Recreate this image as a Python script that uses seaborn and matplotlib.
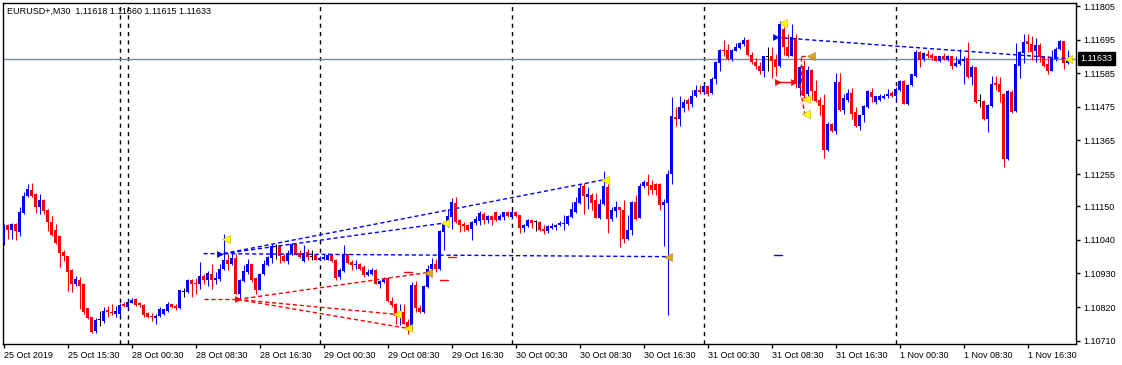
import matplotlib
matplotlib.use("Agg")
import matplotlib.pyplot as plt
import numpy as np
import pandas as pd
import seaborn as sns

# M30 EURUSD candles, one row per bar
opens = [1.11030, 1.11087, 1.11073, 1.11091, 1.11065, 1.11129, 1.11183, 1.11204, 1.11189, 1.11147,
         1.11171, 1.11136, 1.11098, 1.11071, 1.11051, 1.10999, 1.10986, 1.10942, 1.10896, 1.10909,
         1.10896, 1.10817, 1.10786, 1.10743, 1.10778, 1.10775, 1.10810, 1.10804, 1.10797, 1.10797,
         1.10829, 1.10821, 1.10834, 1.10845, 1.10832, 1.10827, 1.10799, 1.10792, 1.10784, 1.10792,
         1.10796, 1.10807, 1.10829, 1.10824, 1.10817, 1.10869, 1.10869, 1.10910, 1.10899, 1.10897,
         1.10921, 1.10908, 1.10929, 1.10910, 1.10913, 1.10943, 1.10973, 1.10960, 1.10981, 1.10864,
         1.10904, 1.10935, 1.10960, 1.10915, 1.10877, 1.10927, 1.10957, 1.10982, 1.11016, 1.11020,
         1.10986, 1.10971, 1.10995, 1.11025, 1.10997, 1.10971, 1.11000, 1.10984, 1.10989, 1.10975,
         1.10977, 1.10975, 1.10991, 1.10975, 1.10918, 1.10938, 1.10993, 1.10967, 1.10957, 1.10962,
         1.10951, 1.10924, 1.10929, 1.10942, 1.10894, 1.10902, 1.10915, 1.10840, 1.10829, 1.10788,
         1.10804, 1.10771, 1.10750, 1.10891, 1.10818, 1.10803, 1.10886, 1.10946, 1.10960, 1.10946,
         1.11066, 1.11091, 1.11115, 1.11160, 1.11104, 1.11093, 1.11087, 1.11076, 1.11095, 1.11101,
         1.11126, 1.11104, 1.11117, 1.11130, 1.11106, 1.11115, 1.11130, 1.11115, 1.11130, 1.11120,
         1.11079, 1.11084, 1.11104, 1.11098, 1.11098, 1.11075, 1.11069, 1.11080, 1.11082, 1.11087,
         1.11093, 1.11091, 1.11115, 1.11131, 1.11160, 1.11215, 1.11180, 1.11186, 1.11169, 1.11112,
         1.11158, 1.11213, 1.11109, 1.11134, 1.11146, 1.11137, 1.11042, 1.11073, 1.11164, 1.11112,
         1.11215, 1.11229, 1.11218, 1.11222, 1.11222, 1.11153, 1.11161, 1.11254, 1.11442, 1.11436,
         1.11472, 1.11498, 1.11485, 1.11512, 1.11531, 1.11523, 1.11542, 1.11520, 1.11565, 1.11618,
         1.11662, 1.11662, 1.11632, 1.11659, 1.11668, 1.11681, 1.11694, 1.11646, 1.11621, 1.11610,
         1.11594, 1.11638, 1.11640, 1.11629, 1.11610, 1.11730, 1.11670, 1.11643, 1.11701, 1.11538,
         1.11610, 1.11516, 1.11597, 1.11527, 1.11496, 1.11480, 1.11333, 1.11420, 1.11396, 1.11556,
         1.11464, 1.11498, 1.11520, 1.11458, 1.11411, 1.11447, 1.11474, 1.11523, 1.11491, 1.11498,
         1.11505, 1.11510, 1.11520, 1.11512, 1.11531, 1.11559, 1.11483, 1.11545, 1.11575, 1.11654,
         1.11632, 1.11649, 1.11646, 1.11640, 1.11625, 1.11640, 1.11629, 1.11640, 1.11610, 1.11616,
         1.11625, 1.11635, 1.11572, 1.11605, 1.11494, 1.11494, 1.11434, 1.11477, 1.11553, 1.11551,
         1.11518, 1.11305, 1.11523, 1.11461, 1.11610, 1.11651, 1.11690, 1.11681, 1.11657, 1.11679,
         1.11640, 1.11614, 1.11594, 1.11632, 1.11665, 1.11690, 1.11618]
highs = [1.11093, 1.11093, 1.11095, 1.11095, 1.11147, 1.11196, 1.11223, 1.11226, 1.11193, 1.11191,
         1.11174, 1.11142, 1.11117, 1.11091, 1.11056, 1.11008, 1.10988, 1.10945, 1.10923, 1.10918,
         1.10899, 1.10818, 1.10788, 1.10784, 1.10806, 1.10819, 1.10825, 1.10830, 1.10825, 1.10832,
         1.10836, 1.10841, 1.10849, 1.10849, 1.10836, 1.10829, 1.10803, 1.10799, 1.10797, 1.10819,
         1.10815, 1.10835, 1.10831, 1.10829, 1.10877, 1.10882, 1.10912, 1.10913, 1.10915, 1.10966,
         1.10927, 1.10938, 1.10960, 1.10935, 1.10960, 1.11060, 1.10993, 1.10997, 1.10995, 1.10913,
         1.10957, 1.10978, 1.10962, 1.10918, 1.10931, 1.10973, 1.10986, 1.11027, 1.11025, 1.11024,
         1.10993, 1.11006, 1.11030, 1.11030, 1.11006, 1.11022, 1.11009, 1.11006, 1.10993, 1.10986,
         1.10993, 1.10997, 1.10995, 1.10978, 1.10949, 1.11022, 1.10995, 1.10973, 1.10975, 1.10964,
         1.10957, 1.10946, 1.10949, 1.10946, 1.10908, 1.10918, 1.10918, 1.10853, 1.10833, 1.10831,
         1.10831, 1.10782, 1.10902, 1.10905, 1.10826, 1.10891, 1.10957, 1.10982, 1.10978, 1.11071,
         1.11098, 1.11142, 1.11178, 1.11180, 1.11109, 1.11098, 1.11091, 1.11101, 1.11117, 1.11133,
         1.11131, 1.11120, 1.11120, 1.11133, 1.11123, 1.11131, 1.11133, 1.11138, 1.11133, 1.11122,
         1.11091, 1.11109, 1.11109, 1.11104, 1.11101, 1.11087, 1.11087, 1.11095, 1.11091, 1.11101,
         1.11120, 1.11120, 1.11164, 1.11180, 1.11223, 1.11226, 1.11213, 1.11192, 1.11193, 1.11174,
         1.11265, 1.11222, 1.11146, 1.11167, 1.11147, 1.11169, 1.11120, 1.11166, 1.11186, 1.11226,
         1.11235, 1.11257, 1.11235, 1.11226, 1.11226, 1.11175, 1.11267, 1.11507, 1.11474, 1.11512,
         1.11502, 1.11505, 1.11531, 1.11548, 1.11548, 1.11551, 1.11548, 1.11572, 1.11625, 1.11664,
         1.11694, 1.11681, 1.11665, 1.11684, 1.11687, 1.11703, 1.11697, 1.11654, 1.11635, 1.11621,
         1.11643, 1.11670, 1.11670, 1.11649, 1.11755, 1.11736, 1.11714, 1.11745, 1.11714, 1.11610,
         1.11627, 1.11610, 1.11600, 1.11562, 1.11507, 1.11516, 1.11425, 1.11422, 1.11586, 1.11586,
         1.11516, 1.11534, 1.11538, 1.11474, 1.11453, 1.11480, 1.11529, 1.11538, 1.11512, 1.11516,
         1.11518, 1.11534, 1.11527, 1.11540, 1.11564, 1.11562, 1.11551, 1.11583, 1.11660, 1.11657,
         1.11654, 1.11660, 1.11651, 1.11643, 1.11643, 1.11651, 1.11646, 1.11643, 1.11643, 1.11665,
         1.11640, 1.11687, 1.11613, 1.11607, 1.11516, 1.11498, 1.11483, 1.11575, 1.11575, 1.11572,
         1.11520, 1.11531, 1.11529, 1.11684, 1.11657, 1.11714, 1.11714, 1.11708, 1.11701, 1.11684,
         1.11643, 1.11640, 1.11660, 1.11670, 1.11694, 1.11692, 1.11660]
lows = [1.11022, 1.11044, 1.11044, 1.11038, 1.11054, 1.11125, 1.11180, 1.11180, 1.11128, 1.11125,
        1.11125, 1.11069, 1.11052, 1.11027, 1.10951, 1.10971, 1.10871, 1.10869, 1.10890, 1.10815,
        1.10798, 1.10781, 1.10736, 1.10735, 1.10759, 1.10767, 1.10786, 1.10795, 1.10786, 1.10791,
        1.10821, 1.10816, 1.10832, 1.10825, 1.10821, 1.10786, 1.10784, 1.10775, 1.10764, 1.10786,
        1.10793, 1.10804, 1.10818, 1.10809, 1.10815, 1.10853, 1.10866, 1.10853, 1.10862, 1.10880,
        1.10897, 1.10888, 1.10880, 1.10897, 1.10905, 1.10940, 1.10940, 1.10958, 1.10862, 1.10851,
        1.10902, 1.10929, 1.10902, 1.10862, 1.10875, 1.10924, 1.10953, 1.10964, 1.10978, 1.10964,
        1.10967, 1.10960, 1.10989, 1.10989, 1.10982, 1.10967, 1.10973, 1.10973, 1.10973, 1.10973,
        1.10975, 1.10973, 1.10967, 1.10908, 1.10913, 1.10935, 1.10960, 1.10942, 1.10946, 1.10942,
        1.10918, 1.10921, 1.10924, 1.10894, 1.10884, 1.10899, 1.10837, 1.10820, 1.10766, 1.10760,
        1.10764, 1.10731, 1.10746, 1.10804, 1.10799, 1.10799, 1.10884, 1.10942, 1.10935, 1.10942,
        1.11008, 1.11082, 1.11076, 1.11095, 1.11066, 1.11069, 1.11069, 1.11040, 1.11087, 1.11087,
        1.11093, 1.11095, 1.11087, 1.11101, 1.11104, 1.11104, 1.11115, 1.11112, 1.11115, 1.11062,
        1.11066, 1.11082, 1.11080, 1.11069, 1.11069, 1.11060, 1.11062, 1.11076, 1.11071, 1.11084,
        1.11073, 1.11089, 1.11112, 1.11128, 1.11158, 1.11125, 1.11142, 1.11138, 1.11110, 1.11109,
        1.11153, 1.11063, 1.11102, 1.11116, 1.11017, 1.11030, 1.11041, 1.11055, 1.11104, 1.11110,
        1.11211, 1.11186, 1.11191, 1.11186, 1.11139, 1.11019, 1.10793, 1.11222, 1.11411, 1.11414,
        1.11458, 1.11466, 1.11474, 1.11507, 1.11518, 1.11516, 1.11512, 1.11518, 1.11551, 1.11592,
        1.11643, 1.11627, 1.11625, 1.11657, 1.11665, 1.11673, 1.11643, 1.11616, 1.11600, 1.11583,
        1.11572, 1.11594, 1.11570, 1.11575, 1.11607, 1.11646, 1.11638, 1.11640, 1.11538, 1.11512,
        1.11496, 1.11512, 1.11496, 1.11491, 1.11447, 1.11309, 1.11331, 1.11393, 1.11387, 1.11461,
        1.11453, 1.11491, 1.11436, 1.11409, 1.11398, 1.11425, 1.11472, 1.11491, 1.11485, 1.11494,
        1.11502, 1.11505, 1.11507, 1.11496, 1.11527, 1.11483, 1.11481, 1.11542, 1.11572, 1.11605,
        1.11625, 1.11635, 1.11629, 1.11624, 1.11621, 1.11627, 1.11625, 1.11600, 1.11607, 1.11613,
        1.11551, 1.11570, 1.11545, 1.11489, 1.11474, 1.11431, 1.11393, 1.11474, 1.11531, 1.11491,
        1.11278, 1.11302, 1.11455, 1.11459, 1.11570, 1.11618, 1.11654, 1.11629, 1.11621, 1.11621,
        1.11607, 1.11581, 1.11592, 1.11625, 1.11660, 1.11600, 1.11615]
closes = [1.11087, 1.11071, 1.11091, 1.11069, 1.11130, 1.11184, 1.11205, 1.11185, 1.11147, 1.11171,
          1.11134, 1.11098, 1.11055, 1.11030, 1.10997, 1.10986, 1.10934, 1.10896, 1.10912, 1.10890,
          1.10803, 1.10784, 1.10739, 1.10778, 1.10778, 1.10808, 1.10803, 1.10799, 1.10806, 1.10827,
          1.10825, 1.10836, 1.10843, 1.10827, 1.10827, 1.10795, 1.10788, 1.10788, 1.10792, 1.10814,
          1.10813, 1.10831, 1.10820, 1.10818, 1.10875, 1.10869, 1.10910, 1.10894, 1.10894, 1.10921,
          1.10908, 1.10933, 1.10908, 1.10915, 1.10943, 1.10975, 1.10960, 1.10981, 1.10864, 1.10908,
          1.10938, 1.10962, 1.10910, 1.10877, 1.10927, 1.10960, 1.10984, 1.11019, 1.11016, 1.10986,
          1.10971, 1.10997, 1.11025, 1.10995, 1.10984, 1.10997, 1.10984, 1.10984, 1.10975, 1.10982,
          1.10984, 1.10991, 1.10971, 1.10916, 1.10940, 1.10993, 1.10964, 1.10957, 1.10962, 1.10946,
          1.10924, 1.10935, 1.10940, 1.10897, 1.10905, 1.10913, 1.10840, 1.10826, 1.10790, 1.10799,
          1.10766, 1.10750, 1.10891, 1.10818, 1.10803, 1.10888, 1.10946, 1.10960, 1.10946, 1.11069,
          1.11091, 1.11117, 1.11164, 1.11098, 1.11087, 1.11084, 1.11073, 1.11098, 1.11107, 1.11128,
          1.11104, 1.11117, 1.11106, 1.11104, 1.11117, 1.11130, 1.11117, 1.11130, 1.11117, 1.11079,
          1.11087, 1.11104, 1.11095, 1.11098, 1.11073, 1.11069, 1.11084, 1.11086, 1.11087, 1.11095,
          1.11095, 1.11117, 1.11142, 1.11164, 1.11210, 1.11182, 1.11189, 1.11162, 1.11112, 1.11158,
          1.11215, 1.11109, 1.11137, 1.11147, 1.11137, 1.11044, 1.11073, 1.11164, 1.11109, 1.11215,
          1.11229, 1.11215, 1.11202, 1.11204, 1.11153, 1.11164, 1.11254, 1.11444, 1.11436, 1.11474,
          1.11491, 1.11485, 1.11512, 1.11529, 1.11523, 1.11542, 1.11516, 1.11567, 1.11621, 1.11662,
          1.11657, 1.11632, 1.11662, 1.11670, 1.11684, 1.11694, 1.11646, 1.11621, 1.11608, 1.11592,
          1.11640, 1.11638, 1.11624, 1.11607, 1.11745, 1.11670, 1.11643, 1.11703, 1.11556, 1.11607,
          1.11509, 1.11597, 1.11527, 1.11494, 1.11477, 1.11333, 1.11420, 1.11396, 1.11556, 1.11464,
          1.11505, 1.11520, 1.11453, 1.11411, 1.11450, 1.11477, 1.11527, 1.11507, 1.11510, 1.11510,
          1.11512, 1.11518, 1.11512, 1.11534, 1.11559, 1.11485, 1.11545, 1.11581, 1.11654, 1.11629,
          1.11651, 1.11643, 1.11635, 1.11625, 1.11640, 1.11632, 1.11640, 1.11610, 1.11618, 1.11627,
          1.11632, 1.11572, 1.11605, 1.11491, 1.11494, 1.11434, 1.11480, 1.11551, 1.11548, 1.11523,
          1.11305, 1.11527, 1.11458, 1.11614, 1.11654, 1.11687, 1.11681, 1.11654, 1.11679, 1.11638,
          1.11610, 1.11592, 1.11635, 1.11665, 1.11690, 1.11618, 1.11633]

time_labels = ["25 Oct 2019", "25 Oct 15:30", "28 Oct 00:30", "28 Oct 08:30", "28 Oct 16:30",
               "29 Oct 00:30", "29 Oct 08:30", "29 Oct 16:30", "30 Oct 00:30", "30 Oct 08:30",
               "30 Oct 16:30", "31 Oct 00:30", "31 Oct 08:30", "31 Oct 16:30", "1 Nov 00:30",
               "1 Nov 08:30", "1 Nov 16:30"]
label_bars = [0, 16, 32, 48, 64, 80, 96, 112, 128, 144, 160, 176, 192, 208, 224, 240, 256]
day_breaks = [29, 31, 79, 127, 175, 223]
price_ticks = [1.11805, 1.11695, 1.11585, 1.11475, 1.11365, 1.11255, 1.11150,
               1.11040, 1.10930, 1.10820, 1.10710]
last_price = 1.11633
header = "EURUSD+,M30  1.11618 1.11660 1.11615 1.11633"

# pattern indicator lines: (bar0, price0, bar1, price1)
blue_dashed = [(50, 1.10995, 166, 1.10985),
               (55, 1.10995, 150.3, 1.11237),
               (55, 1.10995, 110.2, 1.11095),
               (193.5, 1.11702, 266, 1.11633)]
blue_solid = [(192.5, 1.10990, 194.5, 1.10990)]
red_dashed = [(50, 1.10845, 58.5, 1.10845),
              (58.5, 1.10845, 106, 1.10933),
              (58.5, 1.10845, 98.3, 1.10796),
              (58.5, 1.10845, 101.2, 1.10750),
              (199.4, 1.11556, 199.4, 1.11640),
              (199.4, 1.11640, 201.4, 1.11640),
              (199.0, 1.11550, 200.3, 1.11502),
              (199.0, 1.11550, 200.3, 1.11453)]
red_solid = [(193.0, 1.11556, 198.0, 1.11556),
             (100, 1.10934, 102, 1.10934),
             (109.2, 1.10907, 111, 1.10907),
             (111.2, 1.10985, 113, 1.10985)]
yellow_marks_bar = [55.6, 110.4, 150.4, 98.4, 101.2, 194.9, 200.6, 200.6, 266.2]
yellow_marks_price = [1.11043, 1.11095, 1.11237, 1.10796, 1.10750, 1.11748, 1.11502, 1.11453, 1.11633]
orange_marks_bar = [106.2, 166.2, 201.8]
orange_marks_price = [1.10933, 1.10985, 1.11640]
blue_arrow_bar = [54, 193]
blue_arrow_price = [1.10995, 1.11702]
red_arrow_bar = [58.5, 193.5, 197.5]
red_arrow_price = [1.10845, 1.11556, 1.11556]

sns.set_style("white")
plt.rcParams["font.family"] = ["Liberation Sans", "DejaVu Sans"]

df = pd.DataFrame({"open": opens, "high": highs, "low": lows, "close": closes})
df["bar"] = np.arange(len(df))
df["color"] = np.where(df.close > df.open, "#0000ff",
                       np.where(df.close < df.open, "#ff0000", "#000000"))
df["bottom"] = df[["open", "close"]].min(axis=1)
df["height"] = (df.close - df.open).abs().clip(lower=0.00003)

fig = plt.figure(figsize=(11.22, 3.65), dpi=100)
ax = fig.add_axes([2.5 / 1122, 21 / 365, 1073.5 / 1122, 341.5 / 365])
ax.set_facecolor("white")

for b in day_breaks:
    ax.axvline(b, color="black", lw=1, ls=(0, (3, 3)), zorder=1)
ax.axhline(last_price, color="#778899", lw=1, zorder=1)

# each bar is 4 px wide; candle centres fall on pixel centres
ax.vlines(df.bar, df.low, df.high, colors=df.color, lw=0.75, zorder=2)
ax.bar(df.bar, df.height, bottom=df.bottom, width=0.75, color=df.color, lw=0, zorder=3)

for x0, y0, x1, y1 in blue_dashed:
    ax.plot([x0, x1], [y0, y1], color="#0000ff", lw=1, ls=(0, (3, 2)), zorder=4)
for x0, y0, x1, y1 in blue_solid:
    ax.plot([x0, x1], [y0, y1], color="#0000ff", lw=1, zorder=4)
for x0, y0, x1, y1 in red_dashed:
    ax.plot([x0, x1], [y0, y1], color="#ff0000", lw=1, ls=(0, (3, 2)), zorder=4)
for x0, y0, x1, y1 in red_solid:
    ax.plot([x0, x1], [y0, y1], color="#ff0000", lw=1, zorder=4)

ax.scatter(blue_arrow_bar, blue_arrow_price, marker=">", s=24, color="#0000ff", lw=0, zorder=5)
ax.scatter(red_arrow_bar, red_arrow_price, marker=">", s=24, color="#ff0000", lw=0, zorder=5)
ax.scatter(yellow_marks_bar, yellow_marks_price, marker="<", s=34, color="#ffff00",
           edgecolor="#c8b400", lw=0.4, zorder=6)
ax.scatter(orange_marks_bar, orange_marks_price, marker="<", s=34, color="#daa520",
           edgecolor="#b8860b", lw=0.4, zorder=6)

ax.set_xlim(-0.25, 268.125)
ax.set_ylim(1.106992, 1.118165)

ax.yaxis.tick_right()
ax.set_yticks(price_ticks)
ax.set_yticklabels([f"{p:.5f}" for p in price_ticks])
ax.set_xticks(label_bars)
ax.set_xticklabels(time_labels, ha="left")
ax.tick_params(axis="both", direction="out", length=3, width=1, colors="black",
               labelsize=6.5, pad=2)
ax.tick_params(axis="x", bottom=True)
ax.tick_params(axis="y", right=True, left=False)
for sp in ax.spines.values():
    sp.set_color("black")
    sp.set_linewidth(1)

ax.annotate(f"{last_price:.5f}", xy=(1, last_price), xycoords=("axes fraction", "data"),
            xytext=(3.2, 0), textcoords="offset points", ha="left", va="center",
            fontsize=6.5, color="white",
            bbox=dict(boxstyle="square,pad=0.25", fc="black", ec="black"),
            annotation_clip=False, zorder=10)

ax.text(0.004, 0.975, header, transform=ax.transAxes, fontsize=6.5,
        ha="left", va="center", color="black")

fig.savefig("out.png", dpi=100)
